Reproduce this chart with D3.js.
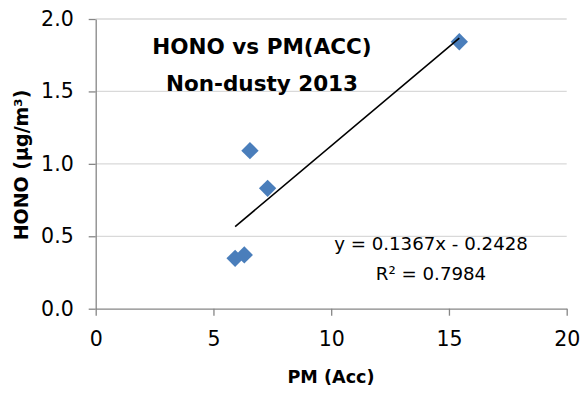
<!DOCTYPE html>
<html>
<head>
<meta charset="utf-8">
<script src="https://cdn.jsdelivr.net/npm/d3@7"></script>
<style>
  html, body { margin: 0; padding: 0; background: #fff; }
  svg { display: block; font-family: "DejaVu Sans", sans-serif; }
</style>
</head>
<body>
<svg id="chart" width="582" height="393"></svg>
<script>
// PM accumulation-mode mass vs HONO, non-dusty days 2013
const pmAcc = [5.92, 6.31, 6.55, 7.30, 15.44];
const hono  = [0.348, 0.371, 1.091, 0.831, 1.843];

// Linear trendline fitted to the points
const slope = 0.1367;
const intercept = -0.2428;
const rSquared = 0.7984;

const xTicks = [0, 5, 10, 15, 20];
const yTicks = [0.0, 0.5, 1.0, 1.5, 2.0];

const titleLines = ["HONO vs PM(ACC)", "Non-dusty 2013"];
const xTitle = "PM (Acc)";
const yTitle = "HONO (µg/m³)";

const svg = d3.select("#chart");

const x = d3.scaleLinear().domain([0, 20]).range([95.7, 566.7]);
const y = d3.scaleLinear().domain([0, 2]).range([308.7, 19]);

const axisColor = "#868686";
const gridColor = "#d9d9d9";
const markColor = "#4a7ebb";

// horizontal gridlines
svg.append("g")
  .selectAll("line")
  .data(yTicks.filter(v => v > 0))
  .join("line")
  .attr("x1", x(0)).attr("x2", x(20))
  .attr("y1", d => y(d)).attr("y2", d => y(d))
  .attr("stroke", gridColor).attr("stroke-width", 1.3);

// y axis
const yAxis = svg.append("g")
  .attr("transform", `translate(${x(0)},0)`)
  .call(d3.axisLeft(y).tickValues(yTicks).tickFormat(d3.format(".1f"))
    .tickSizeInner(7).tickSizeOuter(0).tickPadding(15));
yAxis.select(".domain").attr("stroke", axisColor).attr("stroke-width", 1.3);
yAxis.selectAll(".tick line").attr("stroke", axisColor).attr("stroke-width", 1.3);
yAxis.selectAll(".tick text")
  .attr("fill", "#000").attr("font-size", 20.5)
  .attr("font-family", "DejaVu Sans, sans-serif");

// x axis
const xAxis = svg.append("g")
  .attr("transform", `translate(0,${y(0)})`)
  .call(d3.axisBottom(x).tickValues(xTicks).tickFormat(d3.format("d"))
    .tickSizeInner(7).tickSizeOuter(0).tickPadding(16));
xAxis.select(".domain").attr("stroke", axisColor).attr("stroke-width", 1.3);
xAxis.selectAll(".tick line").attr("stroke", axisColor).attr("stroke-width", 1.3);
xAxis.selectAll(".tick text")
  .attr("fill", "#000").attr("font-size", 20.5)
  .attr("font-family", "DejaVu Sans, sans-serif");

// points (diamonds)
const diamond = d3.symbol().type(d3.symbolSquare).size(150);
svg.append("g")
  .selectAll("path")
  .data(pmAcc.map((v, i) => [v, hono[i]]))
  .join("path")
  .attr("d", diamond)
  .attr("transform", d => `translate(${x(d[0])},${y(d[1])}) rotate(45)`)
  .attr("fill", markColor);

// trendline over the data range
const xMin = d3.min(pmAcc), xMax = d3.max(pmAcc);
svg.append("line")
  .attr("x1", x(xMin)).attr("y1", y(slope * xMin + intercept))
  .attr("x2", x(xMax)).attr("y2", y(slope * xMax + intercept))
  .attr("stroke", "#000").attr("stroke-width", 1.6);

// title
svg.append("text")
  .attr("x", 262).attr("y", 54.3)
  .attr("text-anchor", "middle")
  .attr("font-weight", "bold").attr("font-size", 21.5)
  .selectAll("tspan")
  .data(titleLines)
  .join("tspan")
  .attr("x", 262)
  .attr("dy", (d, i) => i === 0 ? 0 : 36.4)
  .text(d => d);

// trendline equation
const eq = svg.append("text")
  .attr("text-anchor", "middle").attr("font-size", 18.2);
eq.append("tspan").attr("x", 431).attr("y", 250)
  .text(`y = ${slope}x - ${Math.abs(intercept)}`);
eq.append("tspan").attr("x", 431).attr("y", 280)
  .text(`R² = ${rSquared}`);

// axis titles
svg.append("text")
  .attr("x", 331).attr("y", 383)
  .attr("text-anchor", "middle")
  .attr("font-weight", "bold").attr("font-size", 17.6)
  .text(xTitle);

svg.append("text")
  .attr("transform", "translate(27.5,165) rotate(-90)")
  .attr("text-anchor", "middle")
  .attr("font-weight", "bold").attr("font-size", 19)
  .text(yTitle);
</script>
</body>
</html>
